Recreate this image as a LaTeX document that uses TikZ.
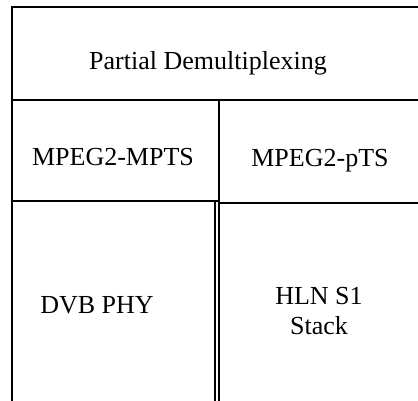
\documentclass[tikz,border=0pt]{standalone}
\usepackage{fontspec}
\setmainfont{Liberation Serif}
\usetikzlibrary{positioning}
\tikzstyle{layer} = [draw=black, line width=0.85pt]
\tikzstyle{layertext} = [font=\fontsize{13}{15}\selectfont, align=center, inner sep=0pt]

\begin{document}
\begin{tikzpicture}[x=0.5pt, y=-0.5pt]
\useasboundingbox (0,0) rectangle (418,401);
\clip (0,0) rectangle (418,401);

% protocol layers, cut off at the right and bottom
\draw [layer] (12,7) rectangle (440,100);
\draw [layer] (12,100) rectangle (219,201);
\draw [layer] (219,100) rectangle (440,203);
\draw [layer] (12,201) rectangle (215,430);
\draw [layer] (219,203) rectangle (440,430);

\node (demux) [layertext] at (208,63) {Partial Demultiplexing};
\node (mpts) [layertext] at (113,157) {MPEG2-MPTS};
\node (pts) [layertext] at (320,161) {MPEG2-pTS};
\node (phy) [layertext] at (97,305) {DVB PHY};
\node (hln) [layertext] at (319,311) {HLN S1\\Stack};

\end{tikzpicture}
\end{document}
